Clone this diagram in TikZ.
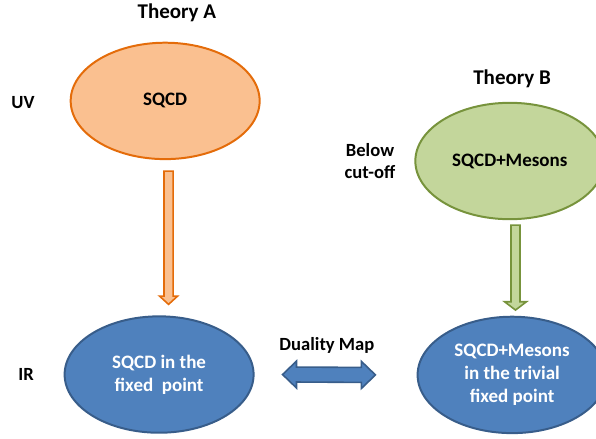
\documentclass[tikz,border=0pt]{standalone}
\usepackage{fontspec}
\setmainfont{Carlito}
\usetikzlibrary{shapes.geometric, calc}

\definecolor{orangefill}{RGB}{250,192,144}
\definecolor{orangeline}{RGB}{228,108,10}
\definecolor{greenfill}{RGB}{195,214,155}
\definecolor{greenline}{RGB}{119,147,60}
\definecolor{bluefill}{RGB}{79,129,189}
\definecolor{blueline}{RGB}{56,93,138}

\tikzset{
  theory/.style={ellipse, line width=1.5pt, minimum width=5cm, minimum height=3.08cm,
    inner sep=0pt, align=center, font=\fontsize{14.3}{17.3}\selectfont\bfseries},
  lbl/.style={align=center, font=\fontsize{14}{16.5}\selectfont\bfseries},
  % block arrow pointing down, #1 = half shaft, #2 = half head
  flowdown/.style 2 args={line width=1.2pt, to path={
      -- ($(\tikztostart)+(-#1,0)$)
      -- ($(\tikztostart |- \tikztotarget)+(-#1,0.22)$)
      -- ($(\tikztostart |- \tikztotarget)+(-#2,0.22)$)
      -- (\tikztostart |- \tikztotarget)
      -- ($(\tikztostart |- \tikztotarget)+(#2,0.22)$)
      -- ($(\tikztostart |- \tikztotarget)+(#1,0.22)$)
      -- ($(\tikztostart)+(#1,0)$) -- cycle}},
  % block arrow with two heads
  flowboth/.style={line width=1.2pt, to path={
      -- ($(\tikztostart)+(0.37,0.357)$) -- ($(\tikztostart)+(0.37,0.198)$)
      -- ($(\tikztotarget)+(-0.37,0.198)$) -- ($(\tikztotarget)+(-0.37,0.357)$)
      -- (\tikztotarget)
      -- ($(\tikztotarget)+(-0.37,-0.357)$) -- ($(\tikztotarget)+(-0.37,-0.198)$)
      -- ($(\tikztostart)+(0.37,-0.198)$) -- ($(\tikztostart)+(0.37,-0.357)$) -- cycle}},
}

\begin{document}
\begin{tikzpicture}
    \clip (0, 0) rectangle (15.77, 11.59);
    % headings
    \node[lbl, font=\fontsize{15.8}{18}\selectfont\bfseries] (thA) at (4.68, 11.25) {Theory A};
    \node[lbl, font=\fontsize{15.8}{18}\selectfont\bfseries] (thB) at (13.55, 9.50) {Theory B};
    \node[lbl] (uv) at (0.61, 8.89) {UV};
    \node[lbl] (cut) at (9.79, 7.33) {Below\\cut-off};
    \node[lbl] (ir) at (0.69, 1.69) {IR};
    \node[lbl] (dmap) at (8.65, 2.46) {Duality Map};
    % theories
    \node[theory, fill=orangefill, draw=orangeline] (sqcdA) at (4.37, 8.92) {SQCD};
    \node[theory, fill=greenfill, draw=greenline] (mesB) at (13.49, 7.33) {SQCD+Mesons};
    \node[theory, fill=bluefill, draw=blueline, text=white] (fixA) at (4.21, 1.68) {SQCD in the\\fixed\ \ point};
    \node[theory, fill=bluefill, draw=blueline, text=white] (fixB) at (13.55, 1.67) {SQCD+Mesons\\in the trivial\\fixed point};
    % flows
    \draw[flowdown={0.12}{0.24}, fill=orangefill, draw=orangeline]
        ([xshift=0.09cm, yshift=-0.29cm]sqcdA.south) to ([yshift=0.29cm]fixA.north);
    \draw[flowdown={0.12}{0.29}, fill=greenfill, draw=greenline]
        ([xshift=0.15cm, yshift=-0.13cm]mesB.south) to ([yshift=0.15cm]fixB.north);
    \draw[flowboth, fill=bluefill, draw=blueline]
        ([xshift=0.74cm]fixA.east) to ([xshift=-1.09cm]fixB.west);
\end{tikzpicture}
\end{document}
